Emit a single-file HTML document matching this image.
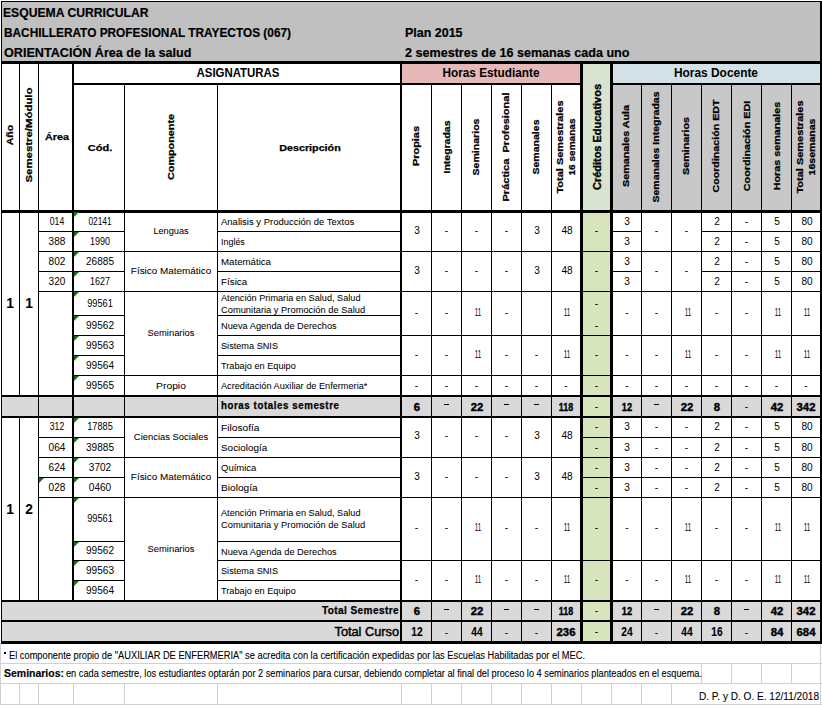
<!DOCTYPE html>
<html><head><meta charset="utf-8"><style>
html,body{margin:0;padding:0;background:#fff;}
body{width:822px;height:705px;position:relative;overflow:hidden;font-family:"Liberation Sans",sans-serif;}
body>div,body>svg{position:absolute;}
</style></head><body>
<div style="left:0px;top:0px;width:822px;height:705px;background:#fff"></div>
<div style="left:2px;top:2px;width:818px;height:59px;background:#c0c0c0"></div>
<div style="left:402px;top:64px;width:178px;height:19px;background:#e6b8b7"></div>
<div style="left:583px;top:64px;width:27px;height:146px;background:#d8e4d0"></div>
<div style="left:613px;top:64px;width:207px;height:19px;background:#d3e1e6"></div>
<div style="left:613px;top:85px;width:207px;height:125px;background:#c8c8c8"></div>
<div style="left:583px;top:213px;width:27px;height:428px;background:#d7e4bc"></div>
<div style="left:2px;top:397px;width:578px;height:19px;background:#d9d9d9"></div>
<div style="left:613px;top:397px;width:207px;height:19px;background:#d9d9d9"></div>
<div style="left:2px;top:602px;width:578px;height:18px;background:#d9d9d9"></div>
<div style="left:613px;top:602px;width:207px;height:18px;background:#d9d9d9"></div>
<div style="left:2px;top:622px;width:578px;height:19px;background:#d9d9d9"></div>
<div style="left:613px;top:622px;width:207px;height:19px;background:#d9d9d9"></div>
<div style="left:0px;top:663px;width:822px;height:1px;background:#d0d0d0"></div>
<div style="left:0px;top:683px;width:822px;height:1px;background:#d0d0d0"></div>
<div style="left:0px;top:704px;width:822px;height:1px;background:#d0d0d0"></div>
<div style="left:0px;top:643px;width:1px;height:62px;background:#d0d0d0"></div>
<div style="left:820px;top:643px;width:1px;height:62px;background:#d0d0d0"></div>
<div style="left:19px;top:684px;width:1px;height:20px;background:#d0d0d0"></div>
<div style="left:38px;top:684px;width:1px;height:20px;background:#d0d0d0"></div>
<div style="left:73px;top:684px;width:1px;height:20px;background:#d0d0d0"></div>
<div style="left:124px;top:684px;width:1px;height:20px;background:#d0d0d0"></div>
<div style="left:217px;top:684px;width:1px;height:20px;background:#d0d0d0"></div>
<div style="left:401px;top:684px;width:1px;height:20px;background:#d0d0d0"></div>
<div style="left:431px;top:684px;width:1px;height:20px;background:#d0d0d0"></div>
<div style="left:461px;top:684px;width:1px;height:20px;background:#d0d0d0"></div>
<div style="left:491px;top:684px;width:1px;height:20px;background:#d0d0d0"></div>
<div style="left:521px;top:684px;width:1px;height:20px;background:#d0d0d0"></div>
<div style="left:551px;top:684px;width:1px;height:20px;background:#d0d0d0"></div>
<div style="left:581px;top:684px;width:1px;height:20px;background:#d0d0d0"></div>
<div style="left:611px;top:684px;width:1px;height:20px;background:#d0d0d0"></div>
<div style="left:641px;top:684px;width:1px;height:20px;background:#d0d0d0"></div>
<div style="left:671px;top:684px;width:1px;height:20px;background:#d0d0d0"></div>
<div style="left:701px;top:664px;width:1px;height:19px;background:#d0d0d0"></div>
<div style="left:731px;top:664px;width:1px;height:19px;background:#d0d0d0"></div>
<div style="left:761px;top:664px;width:1px;height:19px;background:#d0d0d0"></div>
<div style="left:791px;top:664px;width:1px;height:19px;background:#d0d0d0"></div>
<div style="left:1px;top:1px;width:821px;height:1px;background:#000"></div>
<div style="left:1px;top:1px;width:1px;height:642px;background:#000"></div>
<div style="left:820px;top:1px;width:2px;height:642px;background:#000"></div>
<div style="left:1px;top:61px;width:821px;height:3px;background:#000"></div>
<div style="left:72px;top:83px;width:328px;height:2px;background:#000"></div>
<div style="left:400px;top:83px;width:180px;height:2px;background:#000"></div>
<div style="left:610px;top:83px;width:212px;height:2px;background:#000"></div>
<div style="left:19px;top:61px;width:1px;height:149px;background:#000"></div>
<div style="left:38px;top:61px;width:1px;height:149px;background:#000"></div>
<div style="left:72px;top:61px;width:2px;height:149px;background:#000"></div>
<div style="left:124px;top:85px;width:1px;height:125px;background:#000"></div>
<div style="left:217px;top:85px;width:1px;height:125px;background:#000"></div>
<div style="left:400px;top:61px;width:2px;height:149px;background:#000"></div>
<div style="left:431px;top:85px;width:1px;height:125px;background:#000"></div>
<div style="left:461px;top:85px;width:1px;height:125px;background:#000"></div>
<div style="left:491px;top:85px;width:1px;height:125px;background:#000"></div>
<div style="left:521px;top:85px;width:1px;height:125px;background:#000"></div>
<div style="left:551px;top:85px;width:1px;height:125px;background:#000"></div>
<div style="left:580px;top:61px;width:3px;height:149px;background:#000"></div>
<div style="left:610px;top:61px;width:3px;height:149px;background:#000"></div>
<div style="left:641px;top:85px;width:1px;height:125px;background:#000"></div>
<div style="left:671px;top:85px;width:1px;height:125px;background:#000"></div>
<div style="left:701px;top:85px;width:1px;height:125px;background:#000"></div>
<div style="left:731px;top:85px;width:1px;height:125px;background:#000"></div>
<div style="left:761px;top:85px;width:1px;height:125px;background:#000"></div>
<div style="left:791px;top:85px;width:1px;height:125px;background:#000"></div>
<div style="left:1px;top:210px;width:821px;height:3px;background:#000"></div>
<div style="left:19px;top:213px;width:1px;height:182px;background:#000"></div>
<div style="left:38px;top:213px;width:1px;height:182px;background:#000"></div>
<div style="left:72px;top:213px;width:2px;height:182px;background:#000"></div>
<div style="left:124px;top:213px;width:1px;height:182px;background:#000"></div>
<div style="left:217px;top:213px;width:1px;height:182px;background:#000"></div>
<div style="left:400px;top:213px;width:2px;height:182px;background:#000"></div>
<div style="left:431px;top:213px;width:1px;height:182px;background:#000"></div>
<div style="left:461px;top:213px;width:1px;height:182px;background:#000"></div>
<div style="left:491px;top:213px;width:1px;height:182px;background:#000"></div>
<div style="left:521px;top:213px;width:1px;height:182px;background:#000"></div>
<div style="left:551px;top:213px;width:1px;height:182px;background:#000"></div>
<div style="left:580px;top:213px;width:3px;height:182px;background:#000"></div>
<div style="left:610px;top:213px;width:3px;height:182px;background:#000"></div>
<div style="left:641px;top:213px;width:1px;height:182px;background:#000"></div>
<div style="left:671px;top:213px;width:1px;height:182px;background:#000"></div>
<div style="left:701px;top:213px;width:1px;height:182px;background:#000"></div>
<div style="left:731px;top:213px;width:1px;height:182px;background:#000"></div>
<div style="left:761px;top:213px;width:1px;height:182px;background:#000"></div>
<div style="left:791px;top:213px;width:1px;height:182px;background:#000"></div>
<div style="left:19px;top:418px;width:1px;height:182px;background:#000"></div>
<div style="left:38px;top:418px;width:1px;height:182px;background:#000"></div>
<div style="left:72px;top:418px;width:2px;height:182px;background:#000"></div>
<div style="left:124px;top:418px;width:1px;height:182px;background:#000"></div>
<div style="left:217px;top:418px;width:1px;height:182px;background:#000"></div>
<div style="left:400px;top:418px;width:2px;height:182px;background:#000"></div>
<div style="left:431px;top:418px;width:1px;height:182px;background:#000"></div>
<div style="left:461px;top:418px;width:1px;height:182px;background:#000"></div>
<div style="left:491px;top:418px;width:1px;height:182px;background:#000"></div>
<div style="left:521px;top:418px;width:1px;height:182px;background:#000"></div>
<div style="left:551px;top:418px;width:1px;height:182px;background:#000"></div>
<div style="left:580px;top:418px;width:3px;height:182px;background:#000"></div>
<div style="left:610px;top:418px;width:3px;height:182px;background:#000"></div>
<div style="left:641px;top:418px;width:1px;height:182px;background:#000"></div>
<div style="left:671px;top:418px;width:1px;height:182px;background:#000"></div>
<div style="left:701px;top:418px;width:1px;height:182px;background:#000"></div>
<div style="left:731px;top:418px;width:1px;height:182px;background:#000"></div>
<div style="left:761px;top:418px;width:1px;height:182px;background:#000"></div>
<div style="left:791px;top:418px;width:1px;height:182px;background:#000"></div>
<div style="left:38px;top:397px;width:1px;height:19px;background:#000"></div>
<div style="left:72px;top:397px;width:2px;height:19px;background:#000"></div>
<div style="left:124px;top:397px;width:1px;height:19px;background:#000"></div>
<div style="left:217px;top:397px;width:1px;height:19px;background:#000"></div>
<div style="left:400px;top:397px;width:2px;height:19px;background:#000"></div>
<div style="left:431px;top:397px;width:1px;height:19px;background:#000"></div>
<div style="left:461px;top:397px;width:1px;height:19px;background:#000"></div>
<div style="left:491px;top:397px;width:1px;height:19px;background:#000"></div>
<div style="left:521px;top:397px;width:1px;height:19px;background:#000"></div>
<div style="left:551px;top:397px;width:1px;height:19px;background:#000"></div>
<div style="left:580px;top:397px;width:3px;height:19px;background:#000"></div>
<div style="left:610px;top:397px;width:3px;height:19px;background:#000"></div>
<div style="left:641px;top:397px;width:1px;height:19px;background:#000"></div>
<div style="left:671px;top:397px;width:1px;height:19px;background:#000"></div>
<div style="left:701px;top:397px;width:1px;height:19px;background:#000"></div>
<div style="left:731px;top:397px;width:1px;height:19px;background:#000"></div>
<div style="left:761px;top:397px;width:1px;height:19px;background:#000"></div>
<div style="left:791px;top:397px;width:1px;height:19px;background:#000"></div>
<div style="left:400px;top:602px;width:2px;height:18px;background:#000"></div>
<div style="left:431px;top:602px;width:1px;height:18px;background:#000"></div>
<div style="left:461px;top:602px;width:1px;height:18px;background:#000"></div>
<div style="left:491px;top:602px;width:1px;height:18px;background:#000"></div>
<div style="left:521px;top:602px;width:1px;height:18px;background:#000"></div>
<div style="left:551px;top:602px;width:1px;height:18px;background:#000"></div>
<div style="left:580px;top:602px;width:3px;height:18px;background:#000"></div>
<div style="left:610px;top:602px;width:3px;height:18px;background:#000"></div>
<div style="left:641px;top:602px;width:1px;height:18px;background:#000"></div>
<div style="left:671px;top:602px;width:1px;height:18px;background:#000"></div>
<div style="left:701px;top:602px;width:1px;height:18px;background:#000"></div>
<div style="left:731px;top:602px;width:1px;height:18px;background:#000"></div>
<div style="left:761px;top:602px;width:1px;height:18px;background:#000"></div>
<div style="left:791px;top:602px;width:1px;height:18px;background:#000"></div>
<div style="left:400px;top:622px;width:2px;height:19px;background:#000"></div>
<div style="left:431px;top:622px;width:1px;height:19px;background:#000"></div>
<div style="left:461px;top:622px;width:1px;height:19px;background:#000"></div>
<div style="left:491px;top:622px;width:1px;height:19px;background:#000"></div>
<div style="left:521px;top:622px;width:1px;height:19px;background:#000"></div>
<div style="left:551px;top:622px;width:1px;height:19px;background:#000"></div>
<div style="left:580px;top:622px;width:3px;height:19px;background:#000"></div>
<div style="left:610px;top:622px;width:3px;height:19px;background:#000"></div>
<div style="left:641px;top:622px;width:1px;height:19px;background:#000"></div>
<div style="left:671px;top:622px;width:1px;height:19px;background:#000"></div>
<div style="left:701px;top:622px;width:1px;height:19px;background:#000"></div>
<div style="left:731px;top:622px;width:1px;height:19px;background:#000"></div>
<div style="left:761px;top:622px;width:1px;height:19px;background:#000"></div>
<div style="left:791px;top:622px;width:1px;height:19px;background:#000"></div>
<div style="left:1px;top:395px;width:821px;height:2px;background:#000"></div>
<div style="left:1px;top:416px;width:821px;height:2px;background:#000"></div>
<div style="left:1px;top:600px;width:821px;height:2px;background:#000"></div>
<div style="left:1px;top:620px;width:821px;height:2px;background:#000"></div>
<div style="left:1px;top:641px;width:821px;height:3px;background:#000"></div>
<div style="left:38px;top:231px;width:87px;height:1px;background:#000"></div>
<div style="left:217px;top:231px;width:184px;height:1px;background:#000"></div>
<div style="left:612px;top:231px;width:30px;height:1px;background:#000"></div>
<div style="left:701px;top:231px;width:119px;height:1px;background:#000"></div>
<div style="left:38px;top:251px;width:542px;height:1px;background:#000"></div>
<div style="left:612px;top:251px;width:208px;height:1px;background:#000"></div>
<div style="left:583px;top:251px;width:27px;height:1px;background:#000"></div>
<div style="left:38px;top:271px;width:87px;height:1px;background:#000"></div>
<div style="left:217px;top:271px;width:184px;height:1px;background:#000"></div>
<div style="left:612px;top:271px;width:30px;height:1px;background:#000"></div>
<div style="left:701px;top:271px;width:119px;height:1px;background:#000"></div>
<div style="left:38px;top:291px;width:542px;height:1px;background:#000"></div>
<div style="left:612px;top:291px;width:208px;height:1px;background:#000"></div>
<div style="left:583px;top:291px;width:27px;height:1px;background:#000"></div>
<div style="left:72px;top:315px;width:53px;height:1px;background:#000"></div>
<div style="left:217px;top:315px;width:184px;height:1px;background:#000"></div>
<div style="left:72px;top:335px;width:53px;height:1px;background:#000"></div>
<div style="left:217px;top:335px;width:363px;height:1px;background:#000"></div>
<div style="left:612px;top:335px;width:208px;height:1px;background:#000"></div>
<div style="left:583px;top:335px;width:27px;height:1px;background:#000"></div>
<div style="left:72px;top:355px;width:53px;height:1px;background:#000"></div>
<div style="left:217px;top:355px;width:184px;height:1px;background:#000"></div>
<div style="left:72px;top:375px;width:508px;height:1px;background:#000"></div>
<div style="left:612px;top:375px;width:208px;height:1px;background:#000"></div>
<div style="left:583px;top:375px;width:27px;height:1px;background:#000"></div>
<div style="left:38px;top:437px;width:87px;height:1px;background:#000"></div>
<div style="left:217px;top:437px;width:184px;height:1px;background:#000"></div>
<div style="left:612px;top:437px;width:208px;height:1px;background:#000"></div>
<div style="left:583px;top:437px;width:27px;height:1px;background:#000"></div>
<div style="left:38px;top:457px;width:542px;height:1px;background:#000"></div>
<div style="left:612px;top:457px;width:208px;height:1px;background:#000"></div>
<div style="left:583px;top:457px;width:27px;height:1px;background:#000"></div>
<div style="left:38px;top:477px;width:87px;height:1px;background:#000"></div>
<div style="left:217px;top:477px;width:184px;height:1px;background:#000"></div>
<div style="left:612px;top:477px;width:208px;height:1px;background:#000"></div>
<div style="left:583px;top:477px;width:27px;height:1px;background:#000"></div>
<div style="left:38px;top:497px;width:542px;height:1px;background:#000"></div>
<div style="left:612px;top:497px;width:208px;height:1px;background:#000"></div>
<div style="left:583px;top:497px;width:27px;height:1px;background:#000"></div>
<div style="left:72px;top:541px;width:53px;height:1px;background:#000"></div>
<div style="left:217px;top:541px;width:184px;height:1px;background:#000"></div>
<div style="left:72px;top:560px;width:53px;height:1px;background:#000"></div>
<div style="left:217px;top:560px;width:363px;height:1px;background:#000"></div>
<div style="left:612px;top:560px;width:208px;height:1px;background:#000"></div>
<div style="left:583px;top:560px;width:27px;height:1px;background:#000"></div>
<div style="left:72px;top:580px;width:53px;height:1px;background:#000"></div>
<div style="left:217px;top:580px;width:184px;height:1px;background:#000"></div>
<svg style="left:74px;top:212px" width="5" height="5"><path d="M0 0H5L0 5Z" fill="#1b6f1b"/></svg>
<svg style="left:74px;top:232px" width="5" height="5"><path d="M0 0H5L0 5Z" fill="#1b6f1b"/></svg>
<svg style="left:74px;top:252px" width="5" height="5"><path d="M0 0H5L0 5Z" fill="#1b6f1b"/></svg>
<svg style="left:74px;top:272px" width="5" height="5"><path d="M0 0H5L0 5Z" fill="#1b6f1b"/></svg>
<svg style="left:74px;top:292px" width="5" height="5"><path d="M0 0H5L0 5Z" fill="#1b6f1b"/></svg>
<svg style="left:74px;top:316px" width="5" height="5"><path d="M0 0H5L0 5Z" fill="#1b6f1b"/></svg>
<svg style="left:74px;top:336px" width="5" height="5"><path d="M0 0H5L0 5Z" fill="#1b6f1b"/></svg>
<svg style="left:74px;top:356px" width="5" height="5"><path d="M0 0H5L0 5Z" fill="#1b6f1b"/></svg>
<svg style="left:74px;top:376px" width="5" height="5"><path d="M0 0H5L0 5Z" fill="#1b6f1b"/></svg>
<svg style="left:74px;top:418px" width="5" height="5"><path d="M0 0H5L0 5Z" fill="#1b6f1b"/></svg>
<svg style="left:74px;top:438px" width="5" height="5"><path d="M0 0H5L0 5Z" fill="#1b6f1b"/></svg>
<svg style="left:74px;top:458px" width="5" height="5"><path d="M0 0H5L0 5Z" fill="#1b6f1b"/></svg>
<svg style="left:74px;top:478px" width="5" height="5"><path d="M0 0H5L0 5Z" fill="#1b6f1b"/></svg>
<svg style="left:74px;top:498px" width="5" height="5"><path d="M0 0H5L0 5Z" fill="#1b6f1b"/></svg>
<svg style="left:74px;top:542px" width="5" height="5"><path d="M0 0H5L0 5Z" fill="#1b6f1b"/></svg>
<svg style="left:74px;top:561px" width="5" height="5"><path d="M0 0H5L0 5Z" fill="#1b6f1b"/></svg>
<svg style="left:74px;top:581px" width="5" height="5"><path d="M0 0H5L0 5Z" fill="#1b6f1b"/></svg>
<svg style="left:39px;top:478px" width="5" height="5"><path d="M0 0H5L0 5Z" fill="#1b6f1b"/></svg>
<div style="font-size:13px;font-weight:bold;line-height:17px;color:#000;-webkit-text-stroke:0.2px #000;left:3px;top:4.00px;white-space:pre;transform-origin:0 50%;transform:scale(0.9356,1.000)">ESQUEMA CURRICULAR</div>
<div style="font-size:13px;font-weight:bold;line-height:17px;color:#000;-webkit-text-stroke:0.2px #000;left:4px;top:24.00px;white-space:pre;transform-origin:0 50%;transform:scale(0.9113,1.000)">BACHILLERATO PROFESIONAL TRAYECTOS (067)</div>
<div style="font-size:13px;font-weight:bold;line-height:17px;color:#000;-webkit-text-stroke:0.2px #000;left:4px;top:44.00px;white-space:pre;transform-origin:0 50%;transform:scale(0.9697,1.000)">ORIENTACIÓN Área de la salud</div>
<div style="font-size:13px;font-weight:bold;line-height:17px;color:#000;-webkit-text-stroke:0.2px #000;left:404.5px;top:24.00px;white-space:pre;transform-origin:0 50%;transform:scale(0.9586,1.000)">Plan 2015</div>
<div style="font-size:13px;font-weight:bold;line-height:17px;color:#000;-webkit-text-stroke:0.2px #000;left:404.5px;top:44.00px;white-space:pre;transform-origin:0 50%;transform:scale(0.9678,1.000)">2 semestres de 16 semanas cada uno</div>
<div style="font-size:12px;font-weight:bold;line-height:16px;color:#000;left:-62px;top:64.50px;width:600px;text-align:center;white-space:pre;transform:scale(0.9528,1.000)">ASIGNATURAS</div>
<div style="font-size:12px;font-weight:bold;line-height:16px;color:#000;left:191px;top:64.50px;width:600px;text-align:center;white-space:pre;transform:scale(0.9829,1.000)">Horas Estudiante</div>
<div style="font-size:12px;font-weight:bold;line-height:16px;color:#000;left:416px;top:64.50px;width:600px;text-align:center;white-space:pre;transform:scale(0.9918,1.000)">Horas Docente</div>
<div style="left:10px;top:135px;width:0;height:0"><span style="font-size:9.5px;font-weight:bold;line-height:13.5px;color:#000;-webkit-text-stroke:0.25px #000;position:absolute;left:0;top:0;white-space:pre;transform:translate(-50%,-50%) rotate(-90deg) scaleX(1.1101)">Año</span></div>
<div style="left:29.2px;top:135px;width:0;height:0"><span style="font-size:9.5px;font-weight:bold;line-height:13.5px;color:#000;-webkit-text-stroke:0.25px #000;position:absolute;left:0;top:0;white-space:pre;transform:translate(-50%,-50%) rotate(-90deg) scaleX(1.1998)">Semestre/Módulo</span></div>
<div style="font-size:9.5px;font-weight:bold;line-height:13.5px;color:#000;-webkit-text-stroke:0.25px #000;left:-243.5px;top:129.75px;width:600px;text-align:center;white-space:pre;transform:scale(1.1361,1.000)">Área</div>
<div style="font-size:9.5px;font-weight:bold;line-height:13.5px;color:#000;-webkit-text-stroke:0.25px #000;left:-200.5px;top:140.75px;width:600px;text-align:center;white-space:pre;transform:scale(1.1608,1.000)">Cód.</div>
<div style="left:171px;top:146.5px;width:0;height:0"><span style="font-size:9.5px;font-weight:bold;line-height:13.5px;color:#000;-webkit-text-stroke:0.25px #000;position:absolute;left:0;top:0;white-space:pre;transform:translate(-50%,-50%) rotate(-90deg) scaleX(1.1369)">Componente</span></div>
<div style="font-size:9.5px;font-weight:bold;line-height:13.5px;color:#000;-webkit-text-stroke:0.25px #000;left:10px;top:140.75px;width:600px;text-align:center;white-space:pre;transform:scale(1.1309,1.000)">Descripción</div>
<div style="left:416px;top:146.3px;width:0;height:0"><span style="font-size:9.5px;font-weight:bold;line-height:13.5px;color:#000;-webkit-text-stroke:0.25px #000;position:absolute;left:0;top:0;white-space:pre;transform:translate(-50%,-50%) rotate(-90deg) scaleX(1.1479)">Propias</span></div>
<div style="left:446.5px;top:147px;width:0;height:0"><span style="font-size:9.5px;font-weight:bold;line-height:13.5px;color:#000;-webkit-text-stroke:0.25px #000;position:absolute;left:0;top:0;white-space:pre;transform:translate(-50%,-50%) rotate(-90deg) scaleX(1.1032)">Integradas</span></div>
<div style="left:475.5px;top:147px;width:0;height:0"><span style="font-size:9.5px;font-weight:bold;line-height:13.5px;color:#000;-webkit-text-stroke:0.25px #000;position:absolute;left:0;top:0;white-space:pre;transform:translate(-50%,-50%) rotate(-90deg) scaleX(1.1129)">Seminarios</span></div>
<div style="left:505.5px;top:147px;width:0;height:0"><span style="font-size:9.5px;font-weight:bold;line-height:13.5px;color:#000;-webkit-text-stroke:0.25px #000;position:absolute;left:0;top:0;white-space:pre;transform:translate(-50%,-50%) rotate(-90deg) scaleX(1.1598)">Práctica  Profesional</span></div>
<div style="left:535.5px;top:147px;width:0;height:0"><span style="font-size:9.5px;font-weight:bold;line-height:13.5px;color:#000;-webkit-text-stroke:0.25px #000;position:absolute;left:0;top:0;white-space:pre;transform:translate(-50%,-50%) rotate(-90deg) scaleX(1.1079)">Semanales</span></div>
<div style="left:559.75px;top:146.5px;width:0;height:0"><span style="font-size:9.5px;font-weight:bold;line-height:13.5px;color:#000;-webkit-text-stroke:0.25px #000;position:absolute;left:0;top:0;white-space:pre;transform:translate(-50%,-50%) rotate(-90deg) scaleX(1.1537)">Total Semestrales</span></div>
<div style="left:572.25px;top:146.5px;width:0;height:0"><span style="font-size:9.5px;font-weight:bold;line-height:13.5px;color:#000;-webkit-text-stroke:0.25px #000;position:absolute;left:0;top:0;white-space:pre;transform:translate(-50%,-50%) rotate(-90deg) scaleX(1.0580)">16 semanas</span></div>
<div style="left:597px;top:137px;width:0;height:0"><span style="font-size:10.5px;font-weight:bold;line-height:14.5px;color:#000;-webkit-text-stroke:0.35px #000;position:absolute;left:0;top:0;white-space:pre;transform:translate(-50%,-50%) rotate(-90deg) scaleX(1.0441)">Créditos Educativos</span></div>
<div style="left:626px;top:146.2px;width:0;height:0"><span style="font-size:9.5px;font-weight:bold;line-height:13.5px;color:#000;-webkit-text-stroke:0.25px #000;position:absolute;left:0;top:0;white-space:pre;transform:translate(-50%,-50%) rotate(-90deg) scaleX(1.1308)">Semanales Aula</span></div>
<div style="left:656px;top:146.7px;width:0;height:0"><span style="font-size:9.5px;font-weight:bold;line-height:13.5px;color:#000;-webkit-text-stroke:0.25px #000;position:absolute;left:0;top:0;white-space:pre;transform:translate(-50%,-50%) rotate(-90deg) scaleX(1.1064)">Semanales Integradas</span></div>
<div style="left:686px;top:146.2px;width:0;height:0"><span style="font-size:9.5px;font-weight:bold;line-height:13.5px;color:#000;-webkit-text-stroke:0.25px #000;position:absolute;left:0;top:0;white-space:pre;transform:translate(-50%,-50%) rotate(-90deg) scaleX(1.1325)">Seminarios</span></div>
<div style="left:716px;top:146.4px;width:0;height:0"><span style="font-size:9.5px;font-weight:bold;line-height:13.5px;color:#000;-webkit-text-stroke:0.25px #000;position:absolute;left:0;top:0;white-space:pre;transform:translate(-50%,-50%) rotate(-90deg) scaleX(1.1224)">Coordinación EDT</span></div>
<div style="left:746.5px;top:145.8px;width:0;height:0"><span style="font-size:9.5px;font-weight:bold;line-height:13.5px;color:#000;-webkit-text-stroke:0.25px #000;position:absolute;left:0;top:0;white-space:pre;transform:translate(-50%,-50%) rotate(-90deg) scaleX(1.1356)">Coordinación EDI</span></div>
<div style="left:776.5px;top:146.2px;width:0;height:0"><span style="font-size:9.5px;font-weight:bold;line-height:13.5px;color:#000;-webkit-text-stroke:0.25px #000;position:absolute;left:0;top:0;white-space:pre;transform:translate(-50%,-50%) rotate(-90deg) scaleX(1.1323)">Horas semanales</span></div>
<div style="left:799.75px;top:146.5px;width:0;height:0"><span style="font-size:9.5px;font-weight:bold;line-height:13.5px;color:#000;-webkit-text-stroke:0.25px #000;position:absolute;left:0;top:0;white-space:pre;transform:translate(-50%,-50%) rotate(-90deg) scaleX(1.1537)">Total Semestrales</span></div>
<div style="left:812.25px;top:146.5px;width:0;height:0"><span style="font-size:9.5px;font-weight:bold;line-height:13.5px;color:#000;-webkit-text-stroke:0.25px #000;position:absolute;left:0;top:0;white-space:pre;transform:translate(-50%,-50%) rotate(-90deg) scaleX(1.1125)">16semanas</span></div>
<div style="font-size:14.5px;font-weight:bold;line-height:18.5px;color:#000;left:-290.5px;top:294.25px;width:600px;text-align:center;white-space:pre;transform:scale(0.9500,1.000)">1</div>
<div style="font-size:14.5px;font-weight:bold;line-height:18.5px;color:#000;left:-271.5px;top:294.25px;width:600px;text-align:center;white-space:pre;transform:scale(0.9500,1.000)">1</div>
<div style="font-size:14.5px;font-weight:bold;line-height:18.5px;color:#000;left:-290.5px;top:500.25px;width:600px;text-align:center;white-space:pre;transform:scale(0.9500,1.000)">1</div>
<div style="font-size:14.5px;font-weight:bold;line-height:18.5px;color:#000;left:-271.5px;top:500.25px;width:600px;text-align:center;white-space:pre;transform:scale(0.9500,1.000)">2</div>
<div style="font-size:10px;font-weight:normal;line-height:14px;color:#000;left:-243.5px;top:214.50px;width:600px;text-align:center;white-space:pre;transform:scale(0.8631,1.000)">014</div>
<div style="font-size:10px;font-weight:normal;line-height:14px;color:#000;left:-243.5px;top:234.50px;width:600px;text-align:center;white-space:pre;transform:scale(1.0069,1.000)">388</div>
<div style="font-size:10px;font-weight:normal;line-height:14px;color:#000;left:-243.5px;top:254.50px;width:600px;text-align:center;white-space:pre;transform:scale(1.0069,1.000)">802</div>
<div style="font-size:10px;font-weight:normal;line-height:14px;color:#000;left:-243.5px;top:274.50px;width:600px;text-align:center;white-space:pre;transform:scale(1.0069,1.000)">320</div>
<div style="font-size:10px;font-weight:normal;line-height:14px;color:#000;left:-200.0px;top:214.50px;width:600px;text-align:center;white-space:pre;transform:scale(0.8343,1.000)">02141</div>
<div style="font-size:10px;font-weight:normal;line-height:14px;color:#000;left:-200.0px;top:234.50px;width:600px;text-align:center;white-space:pre;transform:scale(0.8990,1.000)">1990</div>
<div style="font-size:10px;font-weight:normal;line-height:14px;color:#000;left:-200.0px;top:254.50px;width:600px;text-align:center;white-space:pre;transform:scale(1.0069,1.000)">26885</div>
<div style="font-size:10px;font-weight:normal;line-height:14px;color:#000;left:-200.0px;top:274.50px;width:600px;text-align:center;white-space:pre;transform:scale(0.8990,1.000)">1627</div>
<div style="font-size:10px;font-weight:normal;line-height:14px;color:#000;left:-200.0px;top:296.50px;width:600px;text-align:center;white-space:pre;transform:scale(0.9206,1.000)">99561</div>
<div style="font-size:10px;font-weight:normal;line-height:14px;color:#000;left:-200.0px;top:318.50px;width:600px;text-align:center;white-space:pre;transform:scale(1.0069,1.000)">99562</div>
<div style="font-size:10px;font-weight:normal;line-height:14px;color:#000;left:-200.0px;top:338.50px;width:600px;text-align:center;white-space:pre;transform:scale(1.0069,1.000)">99563</div>
<div style="font-size:10px;font-weight:normal;line-height:14px;color:#000;left:-200.0px;top:358.50px;width:600px;text-align:center;white-space:pre;transform:scale(1.0069,1.000)">99564</div>
<div style="font-size:10px;font-weight:normal;line-height:14px;color:#000;left:-200.0px;top:378.50px;width:600px;text-align:center;white-space:pre;transform:scale(1.0069,1.000)">99565</div>
<div style="font-size:10.5px;font-weight:normal;line-height:14.5px;color:#000;-webkit-text-stroke:0.05px #000;left:-129.0px;top:223.25px;width:600px;text-align:center;white-space:pre;transform:scale(0.8737,0.930)">Lenguas</div>
<div style="font-size:10.5px;font-weight:normal;line-height:14.5px;color:#000;-webkit-text-stroke:0.05px #000;left:-129.0px;top:263.25px;width:600px;text-align:center;white-space:pre;transform:scale(0.9426,0.930)">Físico Matemático</div>
<div style="font-size:10.5px;font-weight:normal;line-height:14.5px;color:#000;-webkit-text-stroke:0.05px #000;left:-129.0px;top:325.25px;width:600px;text-align:center;white-space:pre;transform:scale(0.8968,0.930)">Seminarios</div>
<div style="font-size:10.5px;font-weight:normal;line-height:14.5px;color:#000;-webkit-text-stroke:0.05px #000;left:-129.0px;top:378.25px;width:600px;text-align:center;white-space:pre;transform:scale(0.9800,0.930)">Propio</div>
<div style="font-size:10.5px;font-weight:normal;line-height:14.5px;color:#000;-webkit-text-stroke:0.05px #000;left:221px;top:214.25px;white-space:pre;transform-origin:0 50%;transform:scale(0.9033,0.930)">Analisis y Producción de Textos</div>
<div style="font-size:10.5px;font-weight:normal;line-height:14.5px;color:#000;-webkit-text-stroke:0.05px #000;left:221px;top:234.25px;white-space:pre;transform-origin:0 50%;transform:scale(0.8494,0.930)">Inglés</div>
<div style="font-size:10.5px;font-weight:normal;line-height:14.5px;color:#000;-webkit-text-stroke:0.05px #000;left:221px;top:254.25px;white-space:pre;transform-origin:0 50%;transform:scale(0.9213,0.930)">Matemática</div>
<div style="font-size:10.5px;font-weight:normal;line-height:14.5px;color:#000;-webkit-text-stroke:0.05px #000;left:221px;top:274.25px;white-space:pre;transform-origin:0 50%;transform:scale(0.9356,0.930)">Física</div>
<div style="font-size:10.5px;font-weight:normal;line-height:14.5px;color:#000;-webkit-text-stroke:0.05px #000;left:221px;top:290.25px;white-space:pre;transform-origin:0 50%;transform:scale(0.8723,0.930)">Atención Primaria en Salud, Salud</div>
<div style="font-size:10.5px;font-weight:normal;line-height:14.5px;color:#000;-webkit-text-stroke:0.05px #000;left:221px;top:302.25px;white-space:pre;transform-origin:0 50%;transform:scale(0.8881,0.930)">Comunitaria y Promoción de Salud</div>
<div style="font-size:10.5px;font-weight:normal;line-height:14.5px;color:#000;-webkit-text-stroke:0.05px #000;left:221px;top:318.25px;white-space:pre;transform-origin:0 50%;transform:scale(0.8809,0.930)">Nueva Agenda de Derechos</div>
<div style="font-size:10.5px;font-weight:normal;line-height:14.5px;color:#000;-webkit-text-stroke:0.05px #000;left:221px;top:338.25px;white-space:pre;transform-origin:0 50%;transform:scale(0.8722,0.930)">Sistema SNIS</div>
<div style="font-size:10.5px;font-weight:normal;line-height:14.5px;color:#000;-webkit-text-stroke:0.05px #000;left:221px;top:358.25px;white-space:pre;transform-origin:0 50%;transform:scale(0.8757,0.930)">Trabajo en Equipo</div>
<div style="font-size:10.5px;font-weight:normal;line-height:14.5px;color:#000;-webkit-text-stroke:0.05px #000;left:221px;top:378.25px;white-space:pre;transform-origin:0 50%;transform:scale(0.8740,0.930)">Acreditación Auxiliar de Enfermeria*</div>
<div style="font-size:10px;font-weight:normal;line-height:14px;color:#000;left:116.80000000000001px;top:223.50px;width:600px;text-align:center;white-space:pre;transform:scale(1.0069,1.000)">3</div>
<div style="font-size:10px;font-weight:normal;line-height:14px;color:#000;left:146.5px;top:223.50px;width:600px;text-align:center;white-space:pre;transform:scale(1.0000,1.000)">-</div>
<div style="font-size:10px;font-weight:normal;line-height:14px;color:#000;left:176.5px;top:223.50px;width:600px;text-align:center;white-space:pre;transform:scale(1.0000,1.000)">-</div>
<div style="font-size:10px;font-weight:normal;line-height:14px;color:#000;left:206.5px;top:223.50px;width:600px;text-align:center;white-space:pre;transform:scale(1.0000,1.000)">-</div>
<div style="font-size:10px;font-weight:normal;line-height:14px;color:#000;left:236.79999999999995px;top:223.50px;width:600px;text-align:center;white-space:pre;transform:scale(1.0069,1.000)">3</div>
<div style="font-size:10px;font-weight:normal;line-height:14px;color:#000;left:267.0px;top:223.50px;width:600px;text-align:center;white-space:pre;transform:scale(1.0069,1.000)">48</div>
<div style="font-size:10px;font-weight:normal;line-height:14px;color:#000;left:116.80000000000001px;top:263.50px;width:600px;text-align:center;white-space:pre;transform:scale(1.0069,1.000)">3</div>
<div style="font-size:10px;font-weight:normal;line-height:14px;color:#000;left:146.5px;top:263.50px;width:600px;text-align:center;white-space:pre;transform:scale(1.0000,1.000)">-</div>
<div style="font-size:10px;font-weight:normal;line-height:14px;color:#000;left:176.5px;top:263.50px;width:600px;text-align:center;white-space:pre;transform:scale(1.0000,1.000)">-</div>
<div style="font-size:10px;font-weight:normal;line-height:14px;color:#000;left:206.5px;top:263.50px;width:600px;text-align:center;white-space:pre;transform:scale(1.0000,1.000)">-</div>
<div style="font-size:10px;font-weight:normal;line-height:14px;color:#000;left:236.79999999999995px;top:263.50px;width:600px;text-align:center;white-space:pre;transform:scale(1.0069,1.000)">3</div>
<div style="font-size:10px;font-weight:normal;line-height:14px;color:#000;left:267.0px;top:263.50px;width:600px;text-align:center;white-space:pre;transform:scale(1.0069,1.000)">48</div>
<div style="font-size:10px;font-weight:normal;line-height:14px;color:#000;left:116.5px;top:305.50px;width:600px;text-align:center;white-space:pre;transform:scale(1.0000,1.000)">-</div>
<div style="font-size:10px;font-weight:normal;line-height:14px;color:#000;left:146.5px;top:305.50px;width:600px;text-align:center;white-space:pre;transform:scale(1.0000,1.000)">-</div>
<div style="font-size:10px;font-weight:normal;line-height:14px;color:#000;left:177.5px;top:305.50px;width:600px;text-align:center;white-space:pre;transform:scale(0.6165,1.000)">11</div>
<div style="font-size:10px;font-weight:normal;line-height:14px;color:#000;left:206.5px;top:305.50px;width:600px;text-align:center;white-space:pre;transform:scale(1.0000,1.000)">-</div>
<div style="font-size:10px;font-weight:normal;line-height:14px;color:#000;left:267.0px;top:305.50px;width:600px;text-align:center;white-space:pre;transform:scale(0.6165,1.000)">11</div>
<div style="font-size:10px;font-weight:normal;line-height:14px;color:#000;left:116.5px;top:347.50px;width:600px;text-align:center;white-space:pre;transform:scale(1.0000,1.000)">-</div>
<div style="font-size:10px;font-weight:normal;line-height:14px;color:#000;left:146.5px;top:347.50px;width:600px;text-align:center;white-space:pre;transform:scale(1.0000,1.000)">-</div>
<div style="font-size:10px;font-weight:normal;line-height:14px;color:#000;left:177.5px;top:347.50px;width:600px;text-align:center;white-space:pre;transform:scale(0.6165,1.000)">11</div>
<div style="font-size:10px;font-weight:normal;line-height:14px;color:#000;left:206.5px;top:347.50px;width:600px;text-align:center;white-space:pre;transform:scale(1.0000,1.000)">-</div>
<div style="font-size:10px;font-weight:normal;line-height:14px;color:#000;left:236.5px;top:347.50px;width:600px;text-align:center;white-space:pre;transform:scale(1.0000,1.000)">-</div>
<div style="font-size:10px;font-weight:normal;line-height:14px;color:#000;left:267.0px;top:347.50px;width:600px;text-align:center;white-space:pre;transform:scale(0.6165,1.000)">11</div>
<div style="font-size:10px;font-weight:normal;line-height:14px;color:#000;left:116.5px;top:378.50px;width:600px;text-align:center;white-space:pre;transform:scale(1.0000,1.000)">-</div>
<div style="font-size:10px;font-weight:normal;line-height:14px;color:#000;left:146.5px;top:378.50px;width:600px;text-align:center;white-space:pre;transform:scale(1.0000,1.000)">-</div>
<div style="font-size:10px;font-weight:normal;line-height:14px;color:#000;left:176.5px;top:378.50px;width:600px;text-align:center;white-space:pre;transform:scale(1.0000,1.000)">-</div>
<div style="font-size:10px;font-weight:normal;line-height:14px;color:#000;left:206.5px;top:378.50px;width:600px;text-align:center;white-space:pre;transform:scale(1.0000,1.000)">-</div>
<div style="font-size:10px;font-weight:normal;line-height:14px;color:#000;left:236.5px;top:378.50px;width:600px;text-align:center;white-space:pre;transform:scale(1.0000,1.000)">-</div>
<div style="font-size:10px;font-weight:normal;line-height:14px;color:#000;left:266.0px;top:378.50px;width:600px;text-align:center;white-space:pre;transform:scale(1.0000,1.000)">-</div>
<div style="font-size:10px;font-weight:normal;line-height:14px;color:#000;left:296.5px;top:223.50px;width:600px;text-align:center;white-space:pre;transform:scale(1.0000,1.000)">-</div>
<div style="font-size:10px;font-weight:normal;line-height:14px;color:#000;left:296.5px;top:263.50px;width:600px;text-align:center;white-space:pre;transform:scale(1.0000,1.000)">-</div>
<div style="font-size:10px;font-weight:normal;line-height:14px;color:#000;left:296.5px;top:296.50px;width:600px;text-align:center;white-space:pre;transform:scale(1.0000,1.000)">-</div>
<div style="font-size:10px;font-weight:normal;line-height:14px;color:#000;left:296.5px;top:318.50px;width:600px;text-align:center;white-space:pre;transform:scale(1.0000,1.000)">-</div>
<div style="font-size:10px;font-weight:normal;line-height:14px;color:#000;left:296.5px;top:347.50px;width:600px;text-align:center;white-space:pre;transform:scale(1.0000,1.000)">-</div>
<div style="font-size:10px;font-weight:normal;line-height:14px;color:#000;left:296.5px;top:378.50px;width:600px;text-align:center;white-space:pre;transform:scale(1.0000,1.000)">-</div>
<div style="font-size:10px;font-weight:normal;line-height:14px;color:#000;left:327.29999999999995px;top:214.50px;width:600px;text-align:center;white-space:pre;transform:scale(1.0069,1.000)">3</div>
<div style="font-size:10px;font-weight:normal;line-height:14px;color:#000;left:416.79999999999995px;top:214.50px;width:600px;text-align:center;white-space:pre;transform:scale(1.0069,1.000)">2</div>
<div style="font-size:10px;font-weight:normal;line-height:14px;color:#000;left:446.5px;top:214.50px;width:600px;text-align:center;white-space:pre;transform:scale(1.0000,1.000)">-</div>
<div style="font-size:10px;font-weight:normal;line-height:14px;color:#000;left:476.79999999999995px;top:214.50px;width:600px;text-align:center;white-space:pre;transform:scale(1.0069,1.000)">5</div>
<div style="font-size:10px;font-weight:normal;line-height:14px;color:#000;left:507.0px;top:214.50px;width:600px;text-align:center;white-space:pre;transform:scale(1.0069,1.000)">80</div>
<div style="font-size:10px;font-weight:normal;line-height:14px;color:#000;left:327.29999999999995px;top:234.50px;width:600px;text-align:center;white-space:pre;transform:scale(1.0069,1.000)">3</div>
<div style="font-size:10px;font-weight:normal;line-height:14px;color:#000;left:416.79999999999995px;top:234.50px;width:600px;text-align:center;white-space:pre;transform:scale(1.0069,1.000)">2</div>
<div style="font-size:10px;font-weight:normal;line-height:14px;color:#000;left:446.5px;top:234.50px;width:600px;text-align:center;white-space:pre;transform:scale(1.0000,1.000)">-</div>
<div style="font-size:10px;font-weight:normal;line-height:14px;color:#000;left:476.79999999999995px;top:234.50px;width:600px;text-align:center;white-space:pre;transform:scale(1.0069,1.000)">5</div>
<div style="font-size:10px;font-weight:normal;line-height:14px;color:#000;left:507.0px;top:234.50px;width:600px;text-align:center;white-space:pre;transform:scale(1.0069,1.000)">80</div>
<div style="font-size:10px;font-weight:normal;line-height:14px;color:#000;left:327.29999999999995px;top:254.50px;width:600px;text-align:center;white-space:pre;transform:scale(1.0069,1.000)">3</div>
<div style="font-size:10px;font-weight:normal;line-height:14px;color:#000;left:416.79999999999995px;top:254.50px;width:600px;text-align:center;white-space:pre;transform:scale(1.0069,1.000)">2</div>
<div style="font-size:10px;font-weight:normal;line-height:14px;color:#000;left:446.5px;top:254.50px;width:600px;text-align:center;white-space:pre;transform:scale(1.0000,1.000)">-</div>
<div style="font-size:10px;font-weight:normal;line-height:14px;color:#000;left:476.79999999999995px;top:254.50px;width:600px;text-align:center;white-space:pre;transform:scale(1.0069,1.000)">5</div>
<div style="font-size:10px;font-weight:normal;line-height:14px;color:#000;left:507.0px;top:254.50px;width:600px;text-align:center;white-space:pre;transform:scale(1.0069,1.000)">80</div>
<div style="font-size:10px;font-weight:normal;line-height:14px;color:#000;left:327.29999999999995px;top:274.50px;width:600px;text-align:center;white-space:pre;transform:scale(1.0069,1.000)">3</div>
<div style="font-size:10px;font-weight:normal;line-height:14px;color:#000;left:416.79999999999995px;top:274.50px;width:600px;text-align:center;white-space:pre;transform:scale(1.0069,1.000)">2</div>
<div style="font-size:10px;font-weight:normal;line-height:14px;color:#000;left:446.5px;top:274.50px;width:600px;text-align:center;white-space:pre;transform:scale(1.0000,1.000)">-</div>
<div style="font-size:10px;font-weight:normal;line-height:14px;color:#000;left:476.79999999999995px;top:274.50px;width:600px;text-align:center;white-space:pre;transform:scale(1.0069,1.000)">5</div>
<div style="font-size:10px;font-weight:normal;line-height:14px;color:#000;left:507.0px;top:274.50px;width:600px;text-align:center;white-space:pre;transform:scale(1.0069,1.000)">80</div>
<div style="font-size:10px;font-weight:normal;line-height:14px;color:#000;left:356.5px;top:223.50px;width:600px;text-align:center;white-space:pre;transform:scale(1.0000,1.000)">-</div>
<div style="font-size:10px;font-weight:normal;line-height:14px;color:#000;left:386.5px;top:223.50px;width:600px;text-align:center;white-space:pre;transform:scale(1.0000,1.000)">-</div>
<div style="font-size:10px;font-weight:normal;line-height:14px;color:#000;left:356.5px;top:263.50px;width:600px;text-align:center;white-space:pre;transform:scale(1.0000,1.000)">-</div>
<div style="font-size:10px;font-weight:normal;line-height:14px;color:#000;left:386.5px;top:263.50px;width:600px;text-align:center;white-space:pre;transform:scale(1.0000,1.000)">-</div>
<div style="font-size:10px;font-weight:normal;line-height:14px;color:#000;left:327.0px;top:305.50px;width:600px;text-align:center;white-space:pre;transform:scale(1.0000,1.000)">-</div>
<div style="font-size:10px;font-weight:normal;line-height:14px;color:#000;left:356.5px;top:305.50px;width:600px;text-align:center;white-space:pre;transform:scale(1.0000,1.000)">-</div>
<div style="font-size:10px;font-weight:normal;line-height:14px;color:#000;left:387.5px;top:305.50px;width:600px;text-align:center;white-space:pre;transform:scale(0.6165,1.000)">11</div>
<div style="font-size:10px;font-weight:normal;line-height:14px;color:#000;left:416.5px;top:305.50px;width:600px;text-align:center;white-space:pre;transform:scale(1.0000,1.000)">-</div>
<div style="font-size:10px;font-weight:normal;line-height:14px;color:#000;left:446.5px;top:305.50px;width:600px;text-align:center;white-space:pre;transform:scale(1.0000,1.000)">-</div>
<div style="font-size:10px;font-weight:normal;line-height:14px;color:#000;left:477.5px;top:305.50px;width:600px;text-align:center;white-space:pre;transform:scale(0.6165,1.000)">11</div>
<div style="font-size:10px;font-weight:normal;line-height:14px;color:#000;left:507.0px;top:305.50px;width:600px;text-align:center;white-space:pre;transform:scale(0.6165,1.000)">11</div>
<div style="font-size:10px;font-weight:normal;line-height:14px;color:#000;left:327.0px;top:347.50px;width:600px;text-align:center;white-space:pre;transform:scale(1.0000,1.000)">-</div>
<div style="font-size:10px;font-weight:normal;line-height:14px;color:#000;left:356.5px;top:347.50px;width:600px;text-align:center;white-space:pre;transform:scale(1.0000,1.000)">-</div>
<div style="font-size:10px;font-weight:normal;line-height:14px;color:#000;left:387.5px;top:347.50px;width:600px;text-align:center;white-space:pre;transform:scale(0.6165,1.000)">11</div>
<div style="font-size:10px;font-weight:normal;line-height:14px;color:#000;left:416.5px;top:347.50px;width:600px;text-align:center;white-space:pre;transform:scale(1.0000,1.000)">-</div>
<div style="font-size:10px;font-weight:normal;line-height:14px;color:#000;left:446.5px;top:347.50px;width:600px;text-align:center;white-space:pre;transform:scale(1.0000,1.000)">-</div>
<div style="font-size:10px;font-weight:normal;line-height:14px;color:#000;left:477.5px;top:347.50px;width:600px;text-align:center;white-space:pre;transform:scale(0.6165,1.000)">11</div>
<div style="font-size:10px;font-weight:normal;line-height:14px;color:#000;left:507.0px;top:347.50px;width:600px;text-align:center;white-space:pre;transform:scale(0.6165,1.000)">11</div>
<div style="font-size:10px;font-weight:normal;line-height:14px;color:#000;left:327.0px;top:378.50px;width:600px;text-align:center;white-space:pre;transform:scale(1.0000,1.000)">-</div>
<div style="font-size:10px;font-weight:normal;line-height:14px;color:#000;left:356.5px;top:378.50px;width:600px;text-align:center;white-space:pre;transform:scale(1.0000,1.000)">-</div>
<div style="font-size:10px;font-weight:normal;line-height:14px;color:#000;left:386.5px;top:378.50px;width:600px;text-align:center;white-space:pre;transform:scale(1.0000,1.000)">-</div>
<div style="font-size:10px;font-weight:normal;line-height:14px;color:#000;left:416.5px;top:378.50px;width:600px;text-align:center;white-space:pre;transform:scale(1.0000,1.000)">-</div>
<div style="font-size:10px;font-weight:normal;line-height:14px;color:#000;left:446.5px;top:378.50px;width:600px;text-align:center;white-space:pre;transform:scale(1.0000,1.000)">-</div>
<div style="font-size:10px;font-weight:normal;line-height:14px;color:#000;left:476.5px;top:378.50px;width:600px;text-align:center;white-space:pre;transform:scale(1.0000,1.000)">-</div>
<div style="font-size:10px;font-weight:normal;line-height:14px;color:#000;left:506.0px;top:378.50px;width:600px;text-align:center;white-space:pre;transform:scale(1.0000,1.000)">-</div>
<div style="font-size:10px;font-weight:bold;line-height:14px;color:#000;letter-spacing:0.6px;-webkit-text-stroke:0.25px #000;left:221px;top:398.50px;white-space:pre;transform-origin:0 50%;transform:scale(0.9702,1.000)">horas totales semestre</div>
<div style="font-size:9.5px;font-weight:bold;line-height:13.5px;color:#000;-webkit-text-stroke:0.35px #000;left:116.5px;top:400.75px;width:600px;text-align:center;white-space:pre;transform:scale(1.1924,1.120)">6</div>
<div style="left:444px;top:404px;width:5px;height:1px;background:#000"></div>
<div style="font-size:9.5px;font-weight:bold;line-height:13.5px;color:#000;-webkit-text-stroke:0.35px #000;left:176.5px;top:400.75px;width:600px;text-align:center;white-space:pre;transform:scale(1.1924,1.120)">22</div>
<div style="left:504px;top:404px;width:5px;height:1px;background:#000"></div>
<div style="left:534px;top:404px;width:5px;height:1px;background:#000"></div>
<div style="font-size:9.5px;font-weight:bold;line-height:13.5px;color:#000;-webkit-text-stroke:0.35px #000;left:266.0px;top:400.75px;width:600px;text-align:center;white-space:pre;transform:scale(0.9330,1.120)">118</div>
<div style="font-size:10px;font-weight:normal;line-height:14px;color:#000;left:296.5px;top:399.50px;width:600px;text-align:center;white-space:pre;transform:scale(1.0000,1.000)">-</div>
<div style="font-size:9.5px;font-weight:bold;line-height:13.5px;color:#000;-webkit-text-stroke:0.35px #000;left:327.0px;top:400.75px;width:600px;text-align:center;white-space:pre;transform:scale(0.9747,1.120)">12</div>
<div style="left:654px;top:404px;width:5px;height:1px;background:#000"></div>
<div style="font-size:9.5px;font-weight:bold;line-height:13.5px;color:#000;-webkit-text-stroke:0.35px #000;left:386.5px;top:400.75px;width:600px;text-align:center;white-space:pre;transform:scale(1.1924,1.120)">22</div>
<div style="font-size:9.5px;font-weight:bold;line-height:13.5px;color:#000;-webkit-text-stroke:0.35px #000;left:416.5px;top:400.75px;width:600px;text-align:center;white-space:pre;transform:scale(1.1924,1.120)">8</div>
<div style="font-size:10px;font-weight:normal;line-height:14px;color:#000;left:446.5px;top:399.50px;width:600px;text-align:center;white-space:pre;transform:scale(1.0000,1.000)">-</div>
<div style="font-size:9.5px;font-weight:bold;line-height:13.5px;color:#000;-webkit-text-stroke:0.35px #000;left:476.5px;top:400.75px;width:600px;text-align:center;white-space:pre;transform:scale(1.1924,1.120)">42</div>
<div style="font-size:9.5px;font-weight:bold;line-height:13.5px;color:#000;-webkit-text-stroke:0.35px #000;left:506.0px;top:400.75px;width:600px;text-align:center;white-space:pre;transform:scale(1.1924,1.120)">342</div>
<div style="font-size:10px;font-weight:normal;line-height:14px;color:#000;left:-243.5px;top:420.00px;width:600px;text-align:center;white-space:pre;transform:scale(0.8631,1.000)">312</div>
<div style="font-size:10px;font-weight:normal;line-height:14px;color:#000;left:-243.5px;top:440.50px;width:600px;text-align:center;white-space:pre;transform:scale(1.0069,1.000)">064</div>
<div style="font-size:10px;font-weight:normal;line-height:14px;color:#000;left:-243.5px;top:460.50px;width:600px;text-align:center;white-space:pre;transform:scale(1.0069,1.000)">624</div>
<div style="font-size:10px;font-weight:normal;line-height:14px;color:#000;left:-243.5px;top:480.50px;width:600px;text-align:center;white-space:pre;transform:scale(1.0069,1.000)">028</div>
<div style="font-size:10px;font-weight:normal;line-height:14px;color:#000;left:-200.0px;top:420.00px;width:600px;text-align:center;white-space:pre;transform:scale(0.9206,1.000)">17885</div>
<div style="font-size:10px;font-weight:normal;line-height:14px;color:#000;left:-200.0px;top:440.50px;width:600px;text-align:center;white-space:pre;transform:scale(1.0069,1.000)">39885</div>
<div style="font-size:10px;font-weight:normal;line-height:14px;color:#000;left:-200.0px;top:460.50px;width:600px;text-align:center;white-space:pre;transform:scale(1.0069,1.000)">3702</div>
<div style="font-size:10px;font-weight:normal;line-height:14px;color:#000;left:-200.0px;top:480.50px;width:600px;text-align:center;white-space:pre;transform:scale(1.0069,1.000)">0460</div>
<div style="font-size:10px;font-weight:normal;line-height:14px;color:#000;left:-200.0px;top:511.50px;width:600px;text-align:center;white-space:pre;transform:scale(0.9206,1.000)">99561</div>
<div style="font-size:10px;font-weight:normal;line-height:14px;color:#000;left:-200.0px;top:544.00px;width:600px;text-align:center;white-space:pre;transform:scale(1.0069,1.000)">99562</div>
<div style="font-size:10px;font-weight:normal;line-height:14px;color:#000;left:-200.0px;top:563.50px;width:600px;text-align:center;white-space:pre;transform:scale(1.0069,1.000)">99563</div>
<div style="font-size:10px;font-weight:normal;line-height:14px;color:#000;left:-200.0px;top:583.50px;width:600px;text-align:center;white-space:pre;transform:scale(1.0069,1.000)">99564</div>
<div style="font-size:10.5px;font-weight:normal;line-height:14.5px;color:#000;-webkit-text-stroke:0.05px #000;left:-129.0px;top:428.75px;width:600px;text-align:center;white-space:pre;transform:scale(0.8966,0.930)">Ciencias Sociales</div>
<div style="font-size:10.5px;font-weight:normal;line-height:14.5px;color:#000;-webkit-text-stroke:0.05px #000;left:-129.0px;top:469.25px;width:600px;text-align:center;white-space:pre;transform:scale(0.9426,0.930)">Físico Matemático</div>
<div style="font-size:10.5px;font-weight:normal;line-height:14.5px;color:#000;-webkit-text-stroke:0.05px #000;left:-129.0px;top:540.75px;width:600px;text-align:center;white-space:pre;transform:scale(0.8968,0.930)">Seminarios</div>
<div style="font-size:10.5px;font-weight:normal;line-height:14.5px;color:#000;-webkit-text-stroke:0.05px #000;left:221px;top:419.75px;white-space:pre;transform-origin:0 50%;transform:scale(0.9702,0.930)">Filosofía</div>
<div style="font-size:10.5px;font-weight:normal;line-height:14.5px;color:#000;-webkit-text-stroke:0.05px #000;left:221px;top:440.25px;white-space:pre;transform-origin:0 50%;transform:scale(0.9442,0.930)">Sociología</div>
<div style="font-size:10.5px;font-weight:normal;line-height:14.5px;color:#000;-webkit-text-stroke:0.05px #000;left:221px;top:460.25px;white-space:pre;transform-origin:0 50%;transform:scale(0.9030,0.930)">Química</div>
<div style="font-size:10.5px;font-weight:normal;line-height:14.5px;color:#000;-webkit-text-stroke:0.05px #000;left:221px;top:480.25px;white-space:pre;transform-origin:0 50%;transform:scale(0.9646,0.930)">Biología</div>
<div style="font-size:10.5px;font-weight:normal;line-height:14.5px;color:#000;-webkit-text-stroke:0.05px #000;left:221px;top:505.25px;white-space:pre;transform-origin:0 50%;transform:scale(0.8723,0.930)">Atención Primaria en Salud, Salud</div>
<div style="font-size:10.5px;font-weight:normal;line-height:14.5px;color:#000;-webkit-text-stroke:0.05px #000;left:221px;top:517.25px;white-space:pre;transform-origin:0 50%;transform:scale(0.8881,0.930)">Comunitaria y Promoción de Salud</div>
<div style="font-size:10.5px;font-weight:normal;line-height:14.5px;color:#000;-webkit-text-stroke:0.05px #000;left:221px;top:543.75px;white-space:pre;transform-origin:0 50%;transform:scale(0.8809,0.930)">Nueva Agenda de Derechos</div>
<div style="font-size:10.5px;font-weight:normal;line-height:14.5px;color:#000;-webkit-text-stroke:0.05px #000;left:221px;top:563.25px;white-space:pre;transform-origin:0 50%;transform:scale(0.8722,0.930)">Sistema SNIS</div>
<div style="font-size:10.5px;font-weight:normal;line-height:14.5px;color:#000;-webkit-text-stroke:0.05px #000;left:221px;top:583.25px;white-space:pre;transform-origin:0 50%;transform:scale(0.8757,0.930)">Trabajo en Equipo</div>
<div style="font-size:10px;font-weight:normal;line-height:14px;color:#000;left:116.80000000000001px;top:429.00px;width:600px;text-align:center;white-space:pre;transform:scale(1.0069,1.000)">3</div>
<div style="font-size:10px;font-weight:normal;line-height:14px;color:#000;left:146.5px;top:429.00px;width:600px;text-align:center;white-space:pre;transform:scale(1.0000,1.000)">-</div>
<div style="font-size:10px;font-weight:normal;line-height:14px;color:#000;left:176.5px;top:429.00px;width:600px;text-align:center;white-space:pre;transform:scale(1.0000,1.000)">-</div>
<div style="font-size:10px;font-weight:normal;line-height:14px;color:#000;left:206.5px;top:429.00px;width:600px;text-align:center;white-space:pre;transform:scale(1.0000,1.000)">-</div>
<div style="font-size:10px;font-weight:normal;line-height:14px;color:#000;left:236.79999999999995px;top:429.00px;width:600px;text-align:center;white-space:pre;transform:scale(1.0069,1.000)">3</div>
<div style="font-size:10px;font-weight:normal;line-height:14px;color:#000;left:267.0px;top:429.00px;width:600px;text-align:center;white-space:pre;transform:scale(1.0069,1.000)">48</div>
<div style="font-size:10px;font-weight:normal;line-height:14px;color:#000;left:116.80000000000001px;top:469.50px;width:600px;text-align:center;white-space:pre;transform:scale(1.0069,1.000)">3</div>
<div style="font-size:10px;font-weight:normal;line-height:14px;color:#000;left:146.5px;top:469.50px;width:600px;text-align:center;white-space:pre;transform:scale(1.0000,1.000)">-</div>
<div style="font-size:10px;font-weight:normal;line-height:14px;color:#000;left:176.5px;top:469.50px;width:600px;text-align:center;white-space:pre;transform:scale(1.0000,1.000)">-</div>
<div style="font-size:10px;font-weight:normal;line-height:14px;color:#000;left:206.5px;top:469.50px;width:600px;text-align:center;white-space:pre;transform:scale(1.0000,1.000)">-</div>
<div style="font-size:10px;font-weight:normal;line-height:14px;color:#000;left:236.79999999999995px;top:469.50px;width:600px;text-align:center;white-space:pre;transform:scale(1.0069,1.000)">3</div>
<div style="font-size:10px;font-weight:normal;line-height:14px;color:#000;left:267.0px;top:469.50px;width:600px;text-align:center;white-space:pre;transform:scale(1.0069,1.000)">48</div>
<div style="font-size:10px;font-weight:normal;line-height:14px;color:#000;left:116.5px;top:521.00px;width:600px;text-align:center;white-space:pre;transform:scale(1.0000,1.000)">-</div>
<div style="font-size:10px;font-weight:normal;line-height:14px;color:#000;left:146.5px;top:521.00px;width:600px;text-align:center;white-space:pre;transform:scale(1.0000,1.000)">-</div>
<div style="font-size:10px;font-weight:normal;line-height:14px;color:#000;left:177.5px;top:521.00px;width:600px;text-align:center;white-space:pre;transform:scale(0.6165,1.000)">11</div>
<div style="font-size:10px;font-weight:normal;line-height:14px;color:#000;left:206.5px;top:521.00px;width:600px;text-align:center;white-space:pre;transform:scale(1.0000,1.000)">-</div>
<div style="font-size:10px;font-weight:normal;line-height:14px;color:#000;left:236.5px;top:521.00px;width:600px;text-align:center;white-space:pre;transform:scale(1.0000,1.000)">-</div>
<div style="font-size:10px;font-weight:normal;line-height:14px;color:#000;left:267.0px;top:521.00px;width:600px;text-align:center;white-space:pre;transform:scale(0.6165,1.000)">11</div>
<div style="font-size:10px;font-weight:normal;line-height:14px;color:#000;left:116.5px;top:572.50px;width:600px;text-align:center;white-space:pre;transform:scale(1.0000,1.000)">-</div>
<div style="font-size:10px;font-weight:normal;line-height:14px;color:#000;left:146.5px;top:572.50px;width:600px;text-align:center;white-space:pre;transform:scale(1.0000,1.000)">-</div>
<div style="font-size:10px;font-weight:normal;line-height:14px;color:#000;left:177.5px;top:572.50px;width:600px;text-align:center;white-space:pre;transform:scale(0.6165,1.000)">11</div>
<div style="font-size:10px;font-weight:normal;line-height:14px;color:#000;left:206.5px;top:572.50px;width:600px;text-align:center;white-space:pre;transform:scale(1.0000,1.000)">-</div>
<div style="font-size:10px;font-weight:normal;line-height:14px;color:#000;left:236.5px;top:572.50px;width:600px;text-align:center;white-space:pre;transform:scale(1.0000,1.000)">-</div>
<div style="font-size:10px;font-weight:normal;line-height:14px;color:#000;left:267.0px;top:572.50px;width:600px;text-align:center;white-space:pre;transform:scale(0.6165,1.000)">11</div>
<div style="font-size:10px;font-weight:normal;line-height:14px;color:#000;left:296.5px;top:420.00px;width:600px;text-align:center;white-space:pre;transform:scale(1.0000,1.000)">-</div>
<div style="font-size:10px;font-weight:normal;line-height:14px;color:#000;left:296.5px;top:440.50px;width:600px;text-align:center;white-space:pre;transform:scale(1.0000,1.000)">-</div>
<div style="font-size:10px;font-weight:normal;line-height:14px;color:#000;left:296.5px;top:460.50px;width:600px;text-align:center;white-space:pre;transform:scale(1.0000,1.000)">-</div>
<div style="font-size:10px;font-weight:normal;line-height:14px;color:#000;left:296.5px;top:480.50px;width:600px;text-align:center;white-space:pre;transform:scale(1.0000,1.000)">-</div>
<div style="font-size:10px;font-weight:normal;line-height:14px;color:#000;left:296.5px;top:521.00px;width:600px;text-align:center;white-space:pre;transform:scale(1.0000,1.000)">-</div>
<div style="font-size:10px;font-weight:normal;line-height:14px;color:#000;left:296.5px;top:572.50px;width:600px;text-align:center;white-space:pre;transform:scale(1.0000,1.000)">-</div>
<div style="font-size:10px;font-weight:normal;line-height:14px;color:#000;left:327.29999999999995px;top:420.00px;width:600px;text-align:center;white-space:pre;transform:scale(1.0069,1.000)">3</div>
<div style="font-size:10px;font-weight:normal;line-height:14px;color:#000;left:356.5px;top:420.00px;width:600px;text-align:center;white-space:pre;transform:scale(1.0000,1.000)">-</div>
<div style="font-size:10px;font-weight:normal;line-height:14px;color:#000;left:386.5px;top:420.00px;width:600px;text-align:center;white-space:pre;transform:scale(1.0000,1.000)">-</div>
<div style="font-size:10px;font-weight:normal;line-height:14px;color:#000;left:416.79999999999995px;top:420.00px;width:600px;text-align:center;white-space:pre;transform:scale(1.0069,1.000)">2</div>
<div style="font-size:10px;font-weight:normal;line-height:14px;color:#000;left:446.5px;top:420.00px;width:600px;text-align:center;white-space:pre;transform:scale(1.0000,1.000)">-</div>
<div style="font-size:10px;font-weight:normal;line-height:14px;color:#000;left:476.79999999999995px;top:420.00px;width:600px;text-align:center;white-space:pre;transform:scale(1.0069,1.000)">5</div>
<div style="font-size:10px;font-weight:normal;line-height:14px;color:#000;left:507.0px;top:420.00px;width:600px;text-align:center;white-space:pre;transform:scale(1.0069,1.000)">80</div>
<div style="font-size:10px;font-weight:normal;line-height:14px;color:#000;left:327.29999999999995px;top:440.50px;width:600px;text-align:center;white-space:pre;transform:scale(1.0069,1.000)">3</div>
<div style="font-size:10px;font-weight:normal;line-height:14px;color:#000;left:356.5px;top:440.50px;width:600px;text-align:center;white-space:pre;transform:scale(1.0000,1.000)">-</div>
<div style="font-size:10px;font-weight:normal;line-height:14px;color:#000;left:386.5px;top:440.50px;width:600px;text-align:center;white-space:pre;transform:scale(1.0000,1.000)">-</div>
<div style="font-size:10px;font-weight:normal;line-height:14px;color:#000;left:416.79999999999995px;top:440.50px;width:600px;text-align:center;white-space:pre;transform:scale(1.0069,1.000)">2</div>
<div style="font-size:10px;font-weight:normal;line-height:14px;color:#000;left:446.5px;top:440.50px;width:600px;text-align:center;white-space:pre;transform:scale(1.0000,1.000)">-</div>
<div style="font-size:10px;font-weight:normal;line-height:14px;color:#000;left:476.79999999999995px;top:440.50px;width:600px;text-align:center;white-space:pre;transform:scale(1.0069,1.000)">5</div>
<div style="font-size:10px;font-weight:normal;line-height:14px;color:#000;left:507.0px;top:440.50px;width:600px;text-align:center;white-space:pre;transform:scale(1.0069,1.000)">80</div>
<div style="font-size:10px;font-weight:normal;line-height:14px;color:#000;left:327.29999999999995px;top:460.50px;width:600px;text-align:center;white-space:pre;transform:scale(1.0069,1.000)">3</div>
<div style="font-size:10px;font-weight:normal;line-height:14px;color:#000;left:356.5px;top:460.50px;width:600px;text-align:center;white-space:pre;transform:scale(1.0000,1.000)">-</div>
<div style="font-size:10px;font-weight:normal;line-height:14px;color:#000;left:386.5px;top:460.50px;width:600px;text-align:center;white-space:pre;transform:scale(1.0000,1.000)">-</div>
<div style="font-size:10px;font-weight:normal;line-height:14px;color:#000;left:416.79999999999995px;top:460.50px;width:600px;text-align:center;white-space:pre;transform:scale(1.0069,1.000)">2</div>
<div style="font-size:10px;font-weight:normal;line-height:14px;color:#000;left:446.5px;top:460.50px;width:600px;text-align:center;white-space:pre;transform:scale(1.0000,1.000)">-</div>
<div style="font-size:10px;font-weight:normal;line-height:14px;color:#000;left:476.79999999999995px;top:460.50px;width:600px;text-align:center;white-space:pre;transform:scale(1.0069,1.000)">5</div>
<div style="font-size:10px;font-weight:normal;line-height:14px;color:#000;left:507.0px;top:460.50px;width:600px;text-align:center;white-space:pre;transform:scale(1.0069,1.000)">80</div>
<div style="font-size:10px;font-weight:normal;line-height:14px;color:#000;left:327.29999999999995px;top:480.50px;width:600px;text-align:center;white-space:pre;transform:scale(1.0069,1.000)">3</div>
<div style="font-size:10px;font-weight:normal;line-height:14px;color:#000;left:356.5px;top:480.50px;width:600px;text-align:center;white-space:pre;transform:scale(1.0000,1.000)">-</div>
<div style="font-size:10px;font-weight:normal;line-height:14px;color:#000;left:386.5px;top:480.50px;width:600px;text-align:center;white-space:pre;transform:scale(1.0000,1.000)">-</div>
<div style="font-size:10px;font-weight:normal;line-height:14px;color:#000;left:416.79999999999995px;top:480.50px;width:600px;text-align:center;white-space:pre;transform:scale(1.0069,1.000)">2</div>
<div style="font-size:10px;font-weight:normal;line-height:14px;color:#000;left:446.5px;top:480.50px;width:600px;text-align:center;white-space:pre;transform:scale(1.0000,1.000)">-</div>
<div style="font-size:10px;font-weight:normal;line-height:14px;color:#000;left:476.79999999999995px;top:480.50px;width:600px;text-align:center;white-space:pre;transform:scale(1.0069,1.000)">5</div>
<div style="font-size:10px;font-weight:normal;line-height:14px;color:#000;left:507.0px;top:480.50px;width:600px;text-align:center;white-space:pre;transform:scale(1.0069,1.000)">80</div>
<div style="font-size:10px;font-weight:normal;line-height:14px;color:#000;left:327.0px;top:521.00px;width:600px;text-align:center;white-space:pre;transform:scale(1.0000,1.000)">-</div>
<div style="font-size:10px;font-weight:normal;line-height:14px;color:#000;left:356.5px;top:521.00px;width:600px;text-align:center;white-space:pre;transform:scale(1.0000,1.000)">-</div>
<div style="font-size:10px;font-weight:normal;line-height:14px;color:#000;left:387.5px;top:521.00px;width:600px;text-align:center;white-space:pre;transform:scale(0.6165,1.000)">11</div>
<div style="font-size:10px;font-weight:normal;line-height:14px;color:#000;left:416.5px;top:521.00px;width:600px;text-align:center;white-space:pre;transform:scale(1.0000,1.000)">-</div>
<div style="font-size:10px;font-weight:normal;line-height:14px;color:#000;left:446.5px;top:521.00px;width:600px;text-align:center;white-space:pre;transform:scale(1.0000,1.000)">-</div>
<div style="font-size:10px;font-weight:normal;line-height:14px;color:#000;left:477.5px;top:521.00px;width:600px;text-align:center;white-space:pre;transform:scale(0.6165,1.000)">11</div>
<div style="font-size:10px;font-weight:normal;line-height:14px;color:#000;left:507.0px;top:521.00px;width:600px;text-align:center;white-space:pre;transform:scale(0.6165,1.000)">11</div>
<div style="font-size:10px;font-weight:normal;line-height:14px;color:#000;left:327.0px;top:572.50px;width:600px;text-align:center;white-space:pre;transform:scale(1.0000,1.000)">-</div>
<div style="font-size:10px;font-weight:normal;line-height:14px;color:#000;left:356.5px;top:572.50px;width:600px;text-align:center;white-space:pre;transform:scale(1.0000,1.000)">-</div>
<div style="font-size:10px;font-weight:normal;line-height:14px;color:#000;left:387.5px;top:572.50px;width:600px;text-align:center;white-space:pre;transform:scale(0.6165,1.000)">11</div>
<div style="font-size:10px;font-weight:normal;line-height:14px;color:#000;left:416.5px;top:572.50px;width:600px;text-align:center;white-space:pre;transform:scale(1.0000,1.000)">-</div>
<div style="font-size:10px;font-weight:normal;line-height:14px;color:#000;left:446.5px;top:572.50px;width:600px;text-align:center;white-space:pre;transform:scale(1.0000,1.000)">-</div>
<div style="font-size:10px;font-weight:normal;line-height:14px;color:#000;left:477.5px;top:572.50px;width:600px;text-align:center;white-space:pre;transform:scale(0.6165,1.000)">11</div>
<div style="font-size:10px;font-weight:normal;line-height:14px;color:#000;left:507.0px;top:572.50px;width:600px;text-align:center;white-space:pre;transform:scale(0.6165,1.000)">11</div>
<div style="font-size:10px;font-weight:bold;line-height:14px;color:#000;letter-spacing:0.4px;-webkit-text-stroke:0.25px #000;left:-201.5px;top:603.50px;width:600px;text-align:right;white-space:pre;transform-origin:100% 50%;transform:scale(1.0059,1.000)">Total Semestre</div>
<div style="font-size:9.5px;font-weight:bold;line-height:13.5px;color:#000;-webkit-text-stroke:0.35px #000;left:116.5px;top:605.25px;width:600px;text-align:center;white-space:pre;transform:scale(1.1924,1.120)">6</div>
<div style="left:444px;top:609px;width:5px;height:1px;background:#000"></div>
<div style="font-size:9.5px;font-weight:bold;line-height:13.5px;color:#000;-webkit-text-stroke:0.35px #000;left:176.5px;top:605.25px;width:600px;text-align:center;white-space:pre;transform:scale(1.1924,1.120)">22</div>
<div style="left:504px;top:609px;width:5px;height:1px;background:#000"></div>
<div style="left:534px;top:609px;width:5px;height:1px;background:#000"></div>
<div style="font-size:9.5px;font-weight:bold;line-height:13.5px;color:#000;-webkit-text-stroke:0.35px #000;left:266.0px;top:605.25px;width:600px;text-align:center;white-space:pre;transform:scale(0.9330,1.120)">118</div>
<div style="font-size:10px;font-weight:normal;line-height:14px;color:#000;left:296.5px;top:604.00px;width:600px;text-align:center;white-space:pre;transform:scale(1.0000,1.000)">-</div>
<div style="font-size:9.5px;font-weight:bold;line-height:13.5px;color:#000;-webkit-text-stroke:0.35px #000;left:327.0px;top:605.25px;width:600px;text-align:center;white-space:pre;transform:scale(0.9747,1.120)">12</div>
<div style="left:654px;top:609px;width:5px;height:1px;background:#000"></div>
<div style="font-size:9.5px;font-weight:bold;line-height:13.5px;color:#000;-webkit-text-stroke:0.35px #000;left:386.5px;top:605.25px;width:600px;text-align:center;white-space:pre;transform:scale(1.1924,1.120)">22</div>
<div style="font-size:9.5px;font-weight:bold;line-height:13.5px;color:#000;-webkit-text-stroke:0.35px #000;left:416.5px;top:605.25px;width:600px;text-align:center;white-space:pre;transform:scale(1.1924,1.120)">8</div>
<div style="left:744px;top:609px;width:5px;height:1px;background:#000"></div>
<div style="font-size:9.5px;font-weight:bold;line-height:13.5px;color:#000;-webkit-text-stroke:0.35px #000;left:476.5px;top:605.25px;width:600px;text-align:center;white-space:pre;transform:scale(1.1924,1.120)">42</div>
<div style="font-size:9.5px;font-weight:bold;line-height:13.5px;color:#000;-webkit-text-stroke:0.35px #000;left:506.0px;top:605.25px;width:600px;text-align:center;white-space:pre;transform:scale(1.1924,1.120)">342</div>
<div style="font-size:13px;font-weight:normal;line-height:17px;color:#000;-webkit-text-stroke:0.45px #000;left:-201.5px;top:623.00px;width:600px;text-align:right;white-space:pre;transform-origin:100% 50%;transform:scale(0.9810,1.000)">Total Curso</div>
<div style="font-size:12px;font-weight:bold;line-height:16px;color:#000;-webkit-text-stroke:0.1px #000;left:116.5px;top:623.50px;width:600px;text-align:center;white-space:pre;transform:scale(0.8500,1.000)">12</div>
<div style="font-size:10px;font-weight:normal;line-height:14px;color:#000;left:146.5px;top:626.00px;width:600px;text-align:center;white-space:pre;transform:scale(1.0000,1.000)">-</div>
<div style="font-size:12px;font-weight:bold;line-height:16px;color:#000;-webkit-text-stroke:0.1px #000;left:176.5px;top:623.50px;width:600px;text-align:center;white-space:pre;transform:scale(0.8500,1.000)">44</div>
<div style="font-size:10px;font-weight:normal;line-height:14px;color:#000;left:206.5px;top:626.00px;width:600px;text-align:center;white-space:pre;transform:scale(1.0000,1.000)">-</div>
<div style="font-size:10px;font-weight:normal;line-height:14px;color:#000;left:236.5px;top:626.00px;width:600px;text-align:center;white-space:pre;transform:scale(1.0000,1.000)">-</div>
<div style="font-size:9.5px;font-weight:bold;line-height:13.5px;color:#000;-webkit-text-stroke:0.35px #000;left:266.0px;top:625.75px;width:600px;text-align:center;white-space:pre;transform:scale(1.1924,1.120)">236</div>
<div style="font-size:10px;font-weight:normal;line-height:14px;color:#000;left:296.5px;top:624.50px;width:600px;text-align:center;white-space:pre;transform:scale(1.0000,1.000)">-</div>
<div style="font-size:12px;font-weight:bold;line-height:16px;color:#000;-webkit-text-stroke:0.1px #000;left:327.0px;top:623.50px;width:600px;text-align:center;white-space:pre;transform:scale(0.8500,1.000)">24</div>
<div style="font-size:10px;font-weight:normal;line-height:14px;color:#000;left:356.5px;top:626.00px;width:600px;text-align:center;white-space:pre;transform:scale(1.0000,1.000)">-</div>
<div style="font-size:12px;font-weight:bold;line-height:16px;color:#000;-webkit-text-stroke:0.1px #000;left:386.5px;top:623.50px;width:600px;text-align:center;white-space:pre;transform:scale(0.8500,1.000)">44</div>
<div style="font-size:12px;font-weight:bold;line-height:16px;color:#000;-webkit-text-stroke:0.1px #000;left:416.5px;top:623.50px;width:600px;text-align:center;white-space:pre;transform:scale(0.8500,1.000)">16</div>
<div style="font-size:10px;font-weight:normal;line-height:14px;color:#000;left:446.5px;top:626.00px;width:600px;text-align:center;white-space:pre;transform:scale(1.0000,1.000)">-</div>
<div style="font-size:9.5px;font-weight:bold;line-height:13.5px;color:#000;-webkit-text-stroke:0.35px #000;left:476.5px;top:625.75px;width:600px;text-align:center;white-space:pre;transform:scale(1.1924,1.120)">84</div>
<div style="font-size:9.5px;font-weight:bold;line-height:13.5px;color:#000;-webkit-text-stroke:0.35px #000;left:506.0px;top:625.75px;width:600px;text-align:center;white-space:pre;transform:scale(1.1924,1.120)">684</div>
<div style="left:4px;top:652px;width:2px;height:2px;background:#000"></div>
<div style="font-size:10px;font-weight:normal;line-height:14px;color:#000;-webkit-text-stroke:0.1px #000;left:8.5px;top:648.50px;white-space:pre;transform-origin:0 50%;transform:scale(0.9280,1.000)">El componente propio de &quot;AUXILIAR DE ENFERMERIA&quot; se acredita con la certificación expedidas por las Escuelas Habilitadas por el MEC.</div>
<div style="font-size:10px;font-weight:bold;line-height:14px;color:#000;-webkit-text-stroke:0.15px #000;left:4px;top:666.50px;white-space:pre;transform-origin:0 50%;transform:scale(1.0482,1.000)">Seminarios:</div>
<div style="font-size:10px;font-weight:normal;line-height:14px;color:#000;-webkit-text-stroke:0.1px #000;left:66px;top:666.50px;white-space:pre;transform-origin:0 50%;transform:scale(0.9212,1.000)">en cada semestre, los estudiantes optarán por 2 seminarios para cursar, debiendo completar al final del proceso lo 4 seminarios planteados en el esquema.</div>
<div style="font-size:11px;font-weight:normal;line-height:15px;color:#000;-webkit-text-stroke:0.1px #000;left:219px;top:688.50px;width:600px;text-align:right;white-space:pre;transform-origin:100% 50%;transform:scale(0.9156,1.000)">D. P. y D. O. E. 12/11/2018</div>
</body></html>
